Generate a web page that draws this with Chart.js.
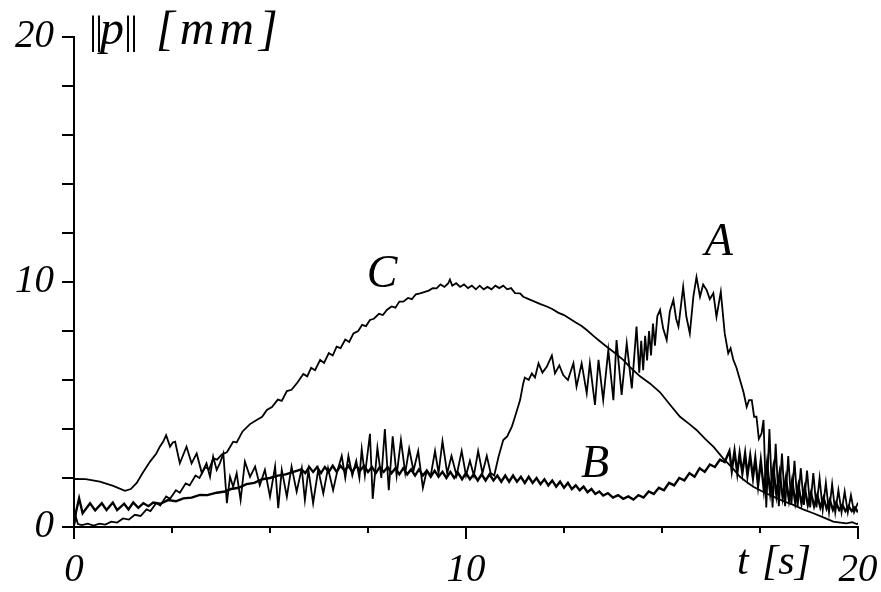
<!DOCTYPE html>
<html>
<head>
<meta charset="utf-8">
<script src="https://cdn.jsdelivr.net/npm/chart.js@4.4.0/dist/chart.umd.min.js"></script>
<style>
	html, body { margin: 0; padding: 0; background: #fff; }
	canvas { display: block; }
</style>
</head>
<body>
<canvas id="myChart" width="881" height="592"></canvas>
<script>
// curve A : time [s] / ||p|| [mm]
var aT = [0, 0.3, 0.66, 1.0, 1.3, 1.45, 1.6, 1.75, 1.94, 2.1, 2.19, 2.28, 2.35, 2.45, 2.52, 2.58, 2.7, 2.8, 2.87, 3.0,
	3.08, 3.13, 3.26, 3.38, 3.47, 3.55, 3.64, 3.72, 3.81, 3.9, 3.98, 4.06, 4.15, 4.25, 4.36, 4.49, 4.62, 4.74, 4.87, 5.0,
	5.13, 5.21, 5.3, 5.43, 5.55, 5.68, 5.81, 5.89, 5.98, 6.1, 6.23, 6.36, 6.48, 6.61, 6.72, 6.83, 6.92, 7.0, 7.1, 7.2,
	7.28, 7.34, 7.42, 7.55, 7.62, 7.74, 7.84, 7.93, 8.03, 8.13, 8.23, 8.34, 8.45, 8.55, 8.66, 8.78, 8.9, 9.0, 9.1, 9.21,
	9.3, 9.4, 9.52, 9.63, 9.76, 9.89, 10.0, 10.1, 10.2, 10.31, 10.42, 10.53, 10.63, 10.72, 10.83, 10.95, 11.05, 11.17, 11.25, 11.38,
	11.46, 11.5, 11.6, 11.68, 11.76, 11.85, 11.95, 12.06, 12.19, 12.27, 12.38, 12.48, 12.6, 12.74, 12.82, 12.95, 13.08, 13.16, 13.29, 13.38,
	13.5, 13.63, 13.76, 13.84, 13.97, 14.1, 14.23, 14.35, 14.42, 14.47, 14.52, 14.57, 14.62, 14.67, 14.72, 14.77, 14.82, 14.88, 14.95, 15.03,
	15.12, 15.2, 15.29, 15.36, 15.42, 15.54, 15.62, 15.71, 15.8, 15.88, 15.97, 16.05, 16.14, 16.22, 16.31, 16.39, 16.5, 16.6, 16.69, 16.75,
	16.82, 16.9, 16.99, 17.08, 17.16, 17.22, 17.29, 17.35, 17.41, 17.47, 17.54, 17.59, 17.66, 17.74, 17.82, 17.9, 17.98, 18.06, 18.14, 18.22,
	18.3, 18.38, 18.46, 18.54, 18.62, 18.7, 18.78, 18.86, 18.94, 19.02, 19.1, 19.18, 19.26, 19.34, 19.42, 19.5, 19.58, 19.66, 19.74, 19.82,
	19.9, 20.0];
var aV = [1.96, 1.95, 1.85, 1.68, 1.48, 1.55, 1.8, 2.2, 2.67, 3.0, 3.28, 3.5, 3.75, 3.28, 3.45, 3.48, 2.6, 3.0, 3.28, 2.6,
	2.85, 3.0, 2.2, 2.6, 2.05, 2.87, 2.33, 2.6, 3.0, 0.97, 2.05, 1.64, 2.19, 1.1, 2.67, 2.05, 2.47, 1.7, 2.33, 1.24,
	2.47, 0.77, 2.33, 1.24, 2.47, 1.44, 2.4, 1.1, 2.33, 0.97, 2.35, 1.37, 2.4, 1.5, 2.3, 2.9, 2.0, 2.9, 2.1, 2.7,
	2.0, 3.17, 2.1, 3.8, 1.15, 3.24, 2.0, 4.0, 1.5, 3.7, 2.1, 3.55, 2.2, 3.2, 2.3, 3.1, 1.6, 2.3, 2.1, 3.1,
	2.2, 3.5, 2.2, 2.9, 2.1, 3.1, 2.1, 2.7, 2.1, 3.1, 2.2, 2.9, 2.2, 2.1, 2.87, 3.55, 3.7, 4.1, 4.5, 5.18,
	5.86, 6.1, 6.0, 6.27, 6.1, 6.68, 6.3, 6.54, 7.0, 6.27, 6.6, 6.2, 6.0, 6.68, 5.73, 6.68, 5.46, 6.68, 4.98, 6.82,
	5.18, 7.22, 5.18, 7.63, 5.39, 7.5, 5.66, 8.18, 6.3, 7.6, 6.4, 7.8, 6.8, 8.0, 7.0, 8.3, 7.4, 8.6, 8.86, 8.1,
	7.63, 8.8, 9.27, 8.5, 8.18, 9.8, 8.6, 7.9, 9.4, 10.2, 9.4, 9.9, 9.67, 9.3, 9.54, 8.58, 9.6, 7.9, 7.09, 7.3,
	6.82, 6.5, 6.0, 5.5, 4.9, 5.18, 5.18, 4.5, 4.5, 3.6, 3.82, 4.37, 0.8, 4.0, 0.8, 3.4, 0.85, 3.0, 0.85, 2.9,
	0.9, 2.7, 0.85, 2.4, 0.9, 2.3, 0.8, 2.2, 0.8, 2.0, 0.7, 1.8, 0.6, 1.75, 0.6, 1.5, 0.6, 1.45, 0.6, 1.3,
	0.6, 1.0];

// curve B
var bT = [0, 0.05, 0.13, 0.22, 0.41, 0.54, 0.71, 0.83, 0.99, 1.1, 1.28, 1.39, 1.51, 1.64, 1.77, 1.9, 2.02, 2.2, 2.4, 2.6,
	2.79, 3.0, 3.21, 3.4, 3.64, 3.85, 4.0, 4.2, 4.4, 4.6, 4.8, 5.0, 5.2, 5.4, 5.6, 5.8, 5.9, 6.0, 6.1, 6.2,
	6.3, 6.4, 6.5, 6.6, 6.7, 6.8, 6.9, 7.0, 7.1, 7.2, 7.3, 7.4, 7.5, 7.6, 7.7, 7.8, 7.9, 8.0, 8.1, 8.2,
	8.3, 8.4, 8.5, 8.6, 8.7, 8.8, 8.9, 9.0, 9.1, 9.2, 9.3, 9.4, 9.5, 9.6, 9.7, 9.8, 9.9, 10.0, 10.1, 10.2,
	10.3, 10.4, 10.5, 10.6, 10.7, 10.8, 10.9, 11.0, 11.1, 11.2, 11.3, 11.4, 11.5, 11.6, 11.7, 11.8, 11.9, 12.0, 12.1, 12.2,
	12.3, 12.4, 12.5, 12.6, 12.7, 12.8, 12.9, 13.0, 13.1, 13.2, 13.3, 13.4, 13.5, 13.62, 13.75, 13.88, 14.01, 14.14, 14.27, 14.4,
	14.53, 14.66, 14.79, 14.92, 15.05, 15.18, 15.31, 15.44, 15.57, 15.7, 15.83, 15.96, 16.09, 16.22, 16.35, 16.48, 16.6, 16.72, 16.78, 16.85,
	16.92, 16.98, 17.05, 17.12, 17.18, 17.25, 17.32, 17.38, 17.45, 17.52, 17.6, 17.68, 17.76, 17.84, 17.92, 18.0, 18.08, 18.16, 18.24, 18.32,
	18.4, 18.48, 18.56, 18.64, 18.72, 18.8, 18.88, 18.96, 19.04, 19.12, 19.2, 19.28, 19.36, 19.44, 19.52, 19.6, 19.68, 19.76, 19.84, 19.92,
	20.0];
var bV = [0.1, 0.6, 1.17, 0.56, 0.97, 0.68, 0.97, 0.69, 1.0, 0.69, 0.95, 0.72, 1.0, 0.78, 0.97, 0.85, 1.0, 0.95, 1.1, 1.05,
	1.17, 1.2, 1.31, 1.3, 1.4, 1.45, 1.55, 1.6, 1.75, 1.8, 1.95, 2.0, 2.1, 2.15, 2.25, 2.35, 2.2, 2.45, 2.25, 2.45,
	2.2, 2.45, 2.25, 2.5, 2.25, 2.5, 2.3, 2.5, 2.25, 2.5, 2.3, 2.5, 2.25, 2.45, 2.2, 2.45, 2.25, 2.45, 2.2, 2.4,
	2.15, 2.4, 2.15, 2.35, 2.1, 2.35, 2.1, 2.3, 2.05, 2.3, 2.05, 2.25, 2.0, 2.25, 2.0, 2.2, 1.95, 2.2, 1.95, 2.15,
	1.9, 2.15, 1.9, 2.15, 1.9, 2.1, 1.85, 2.1, 1.85, 2.1, 1.85, 2.05, 1.8, 2.05, 1.8, 2.0, 1.75, 1.95, 1.7, 1.9,
	1.65, 1.85, 1.6, 1.8, 1.55, 1.7, 1.5, 1.65, 1.42, 1.55, 1.35, 1.45, 1.28, 1.38, 1.2, 1.3, 1.15, 1.25, 1.12, 1.3,
	1.2, 1.45, 1.35, 1.6, 1.5, 1.8, 1.7, 2.0, 1.9, 2.2, 2.05, 2.4, 2.25, 2.55, 2.45, 2.75, 2.65, 3.1, 2.3, 3.1,
	2.2, 3.0, 2.2, 3.0, 2.1, 2.9, 2.0, 2.8, 1.7, 2.7, 1.5, 2.6, 1.4, 2.4, 1.3, 2.2, 1.2, 2.0, 1.1, 1.9,
	1.0, 1.7, 0.95, 1.6, 0.9, 1.4, 0.85, 1.3, 0.8, 1.2, 0.75, 1.1, 0.7, 1.0, 0.7, 0.9, 0.65, 0.85, 0.65, 0.8,
	0.6];

// curve C
var cT = [0, 0.04, 0.1, 0.2, 0.35, 0.5, 0.65, 0.8, 0.95, 1.1, 1.25, 1.4, 1.55, 1.7, 1.85, 1.95, 2.1, 2.2, 2.35, 2.45,
	2.6, 2.7, 2.85, 2.95, 3.1, 3.2, 3.35, 3.45, 3.55, 3.65, 3.77, 3.9, 4.06, 4.15, 4.3, 4.49, 4.66, 4.8, 4.92, 5.05,
	5.2, 5.3, 5.43, 5.55, 5.7, 5.85, 5.95, 6.05, 6.15, 6.28, 6.38, 6.5, 6.6, 6.7, 6.8, 6.92, 7.02, 7.13, 7.25, 7.35,
	7.45, 7.55, 7.65, 7.78, 7.88, 7.98, 8.1, 8.2, 8.3, 8.4, 8.52, 8.62, 8.72, 8.83, 8.95, 9.05, 9.15, 9.25, 9.35, 9.45,
	9.55, 9.59, 9.65, 9.75, 9.85, 9.95, 10.05, 10.15, 10.25, 10.35, 10.45, 10.55, 10.65, 10.75, 10.85, 10.95, 11.05, 11.15, 11.25, 11.38,
	11.46, 11.6, 11.75, 11.9, 12.06, 12.2, 12.35, 12.5, 12.65, 12.8, 12.95, 13.08, 13.25, 13.4, 13.59, 13.8, 14.01, 14.2, 14.44, 14.7,
	14.95, 15.2, 15.46, 15.7, 15.88, 16.1, 16.31, 16.56, 16.8, 16.99, 17.15, 17.33, 17.6, 17.84, 18.1, 18.35, 18.6, 18.86, 19.1, 19.37,
	19.55, 19.71, 19.85, 19.97, 20.0];
var cV = [0.05, 0.45, 0.12, 0.08, 0.14, 0.06, 0.14, 0.1, 0.22, 0.18, 0.35, 0.3, 0.5, 0.45, 0.72, 0.65, 0.98, 0.88, 1.25, 1.15,
	1.5, 1.4, 1.78, 1.7, 2.1, 2.0, 2.45, 2.35, 2.8, 2.75, 2.96, 3.05, 3.48, 3.45, 3.9, 4.2, 4.37, 4.5, 4.78, 4.9,
	5.2, 5.15, 5.55, 5.6, 5.9, 6.25, 6.15, 6.5, 6.4, 6.82, 6.7, 7.1, 7.0, 7.36, 7.3, 7.65, 7.55, 7.9, 8.0, 8.25,
	8.2, 8.45, 8.5, 8.7, 8.65, 8.86, 9.0, 8.95, 9.2, 9.2, 9.35, 9.3, 9.5, 9.54, 9.6, 9.65, 9.75, 9.74, 9.9, 9.8,
	9.95, 10.1, 9.85, 9.95, 9.8, 9.9, 9.75, 9.85, 9.7, 9.85, 9.7, 9.8, 9.7, 9.85, 9.75, 9.85, 9.7, 9.75, 9.55, 9.54,
	9.4, 9.3, 9.2, 9.1, 9.0, 8.9, 8.75, 8.65, 8.5, 8.35, 8.2, 8.04, 7.8, 7.6, 7.36, 7.1, 6.82, 6.5, 6.15, 5.85,
	5.5, 5.0, 4.5, 4.2, 3.96, 3.6, 3.28, 2.8, 2.4, 2.05, 1.85, 1.64, 1.42, 1.24, 1.05, 0.9, 0.72, 0.56, 0.4, 0.22,
	0.18, 0.15, 0.2, 0.12, 0.15];

var curveNames = ['A', 'B', 'C'];
var xLabelled = [0, 10, 20];
var yLabelled = [0, 10, 20];

var serif = '"Liberation Serif", "Times New Roman", serif';

function toPoints(ts, vs) {
	var pts = [];
	for (var i = 0; i < ts.length; i++) {
		pts.push({x: ts[i], y: vs[i]});
	}
	return pts;
}

function makeDataset(label, ts, vs, width) {
	return {
		label: label,
		data: toPoints(ts, vs),
		borderColor: '#000',
		borderWidth: width,
		pointRadius: 0,
		tension: 0,
		fill: false
	};
}

// where the curve names sit, in data units
var nameSpots = {
	A: {t: 16.45, v: 11.1},
	B: {t: 13.29, v: 2.04},
	C: {t: 7.86, v: 9.8}
};

var decorPlugin = {
	id: 'decor',
	afterDraw: function(chart) {
		var ctx = chart.ctx;
		var xs = chart.scales.x;
		var ys = chart.scales.y;
		ctx.save();

		// major ticks on the time axis are twice as long
		ctx.strokeStyle = '#000';
		ctx.lineWidth = 2;
		xLabelled.forEach(function(v) {
			var px = xs.getPixelForValue(v);
			ctx.beginPath();
			ctx.moveTo(px, ys.bottom);
			ctx.lineTo(px, ys.bottom + 12);
			ctx.stroke();
		});

		ctx.fillStyle = '#000';
		ctx.textBaseline = 'alphabetic';

		// curve names
		ctx.font = 'italic 46px ' + serif;
		ctx.textAlign = 'center';
		curveNames.forEach(function(n) {
			var s = nameSpots[n];
			ctx.fillText(n, xs.getPixelForValue(s.t), ys.getPixelForValue(s.v));
		});

		// y title: ||p|| [mm], the bars upright, the letters italic
		ctx.font = '40px ' + serif;
		[93, 99, 128, 134].forEach(function(cx) {
			ctx.fillText('|', cx, 43);
		});
		ctx.textAlign = 'left';
		ctx.font = 'italic 48px ' + serif;
		ctx.fillText('p', 100, 44);
		ctx.letterSpacing = '5px';
		ctx.fillText('[mm]', 156, 44);
		ctx.letterSpacing = '0px';

		// x title: t [s]
		ctx.font = 'italic 42px ' + serif;
		ctx.fillText('t', 737, 574);
		ctx.fillText('[s]', 762, 574);

		ctx.restore();
	}
};

var ctx = document.getElementById('myChart').getContext('2d');
var myChart = new Chart(ctx, {
	type: 'line',
	data: {
		datasets: [
			makeDataset('A', aT, aV, 1.8),
			makeDataset('B', bT, bV, 2.4),
			makeDataset('C', cT, cV, 1.8)
		]
	},
	options: {
		responsive: false,
		animation: false,
		layout: {padding: {top: 37, right: 23, left: 0, bottom: 0}},
		plugins: {
			legend: {display: false},
			tooltip: {enabled: false}
		},
		scales: {
			x: {
				type: 'linear',
				min: 0,
				max: 20,
				afterFit: function(scale) {
					scale.height = 65;
					scale.paddingLeft = 0;
					scale.paddingRight = 0;
				},
				grid: {drawOnChartArea: false, drawTicks: true, tickLength: 6, color: '#000', lineWidth: 2},
				border: {display: true, color: '#000', width: 2},
				ticks: {
					stepSize: 2.5,
					autoSkip: false,
					maxRotation: 0,
					padding: 14,
					color: '#000',
					font: {family: serif, size: 39, style: 'italic'},
					callback: function(v) { return xLabelled.indexOf(v) >= 0 ? String(v) : ''; }
				}
			},
			y: {
				min: 0,
				max: 20,
				afterFit: function(scale) {
					scale.width = 74;
					scale.paddingTop = 0;
					scale.paddingBottom = 0;
				},
				grid: {drawOnChartArea: false, drawTicks: true, tickLength: 12, color: '#000', lineWidth: 2},
				border: {display: true, color: '#000', width: 2},
				ticks: {
					stepSize: 2,
					autoSkip: false,
					padding: 8,
					color: '#000',
					font: {family: serif, size: 39, style: 'italic'},
					callback: function(v) { return yLabelled.indexOf(v) >= 0 ? String(v) : ''; }
				}
			}
		}
	},
	plugins: [decorPlugin]
});
</script>
</body>
</html>
